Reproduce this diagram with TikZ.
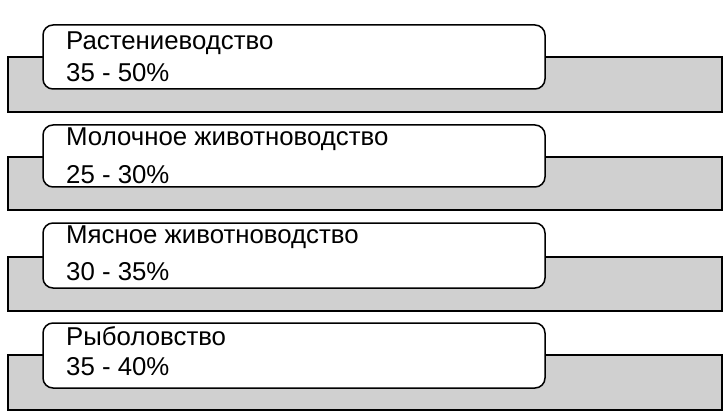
\documentclass[tikz,border=0pt]{standalone}
\usepackage{fontspec}
\setmainfont{Liberation Sans}
\definecolor{panelgray}{RGB}{208,208,208}
\tikzset{
  bar/.style={draw=black, fill=panelgray, line width=1.5pt},
  card/.style={draw=black, fill=white, line width=1.5pt, rounded corners=10pt},
  lbl/.style={anchor=base west, inner sep=0pt, font=\fontsize{25.8}{30}\selectfont}
}
\begin{document}
\begin{tikzpicture}[x=1pt,y=-1pt]
\useasboundingbox (0,0) rectangle (725,414);
% panel 1
\draw[bar] (8,57) rectangle (722,112);
\draw[card] (43,25) rectangle (545,89);
\node[lbl] (t1) at (66,50) {Растениеводство};
\node[lbl] (p1) at (66,82) {35 - 50\%};
% panel 2
\draw[bar] (8,157) rectangle (722,210);
\draw[card] (43,125) rectangle (545,187);
\node[lbl] (t2) at (66,146) {Молочное животноводство};
\node[lbl] (p2) at (66,183) {25 - 30\%};
% panel 3
\draw[bar] (8,257) rectangle (722,311);
\draw[card] (43,223) rectangle (545,288);
\node[lbl] (t3) at (66,243) {Мясное животноводство};
\node[lbl] (p3) at (66,280) {30 - 35\%};
% panel 4
\draw[bar] (8,355) rectangle (722,410);
\draw[card] (43,323) rectangle (545,388);
\node[lbl] (t4) at (66,345) {Рыболовство};
\node[lbl] (p4) at (66,375) {35 - 40\%};
\end{tikzpicture}
\end{document}
